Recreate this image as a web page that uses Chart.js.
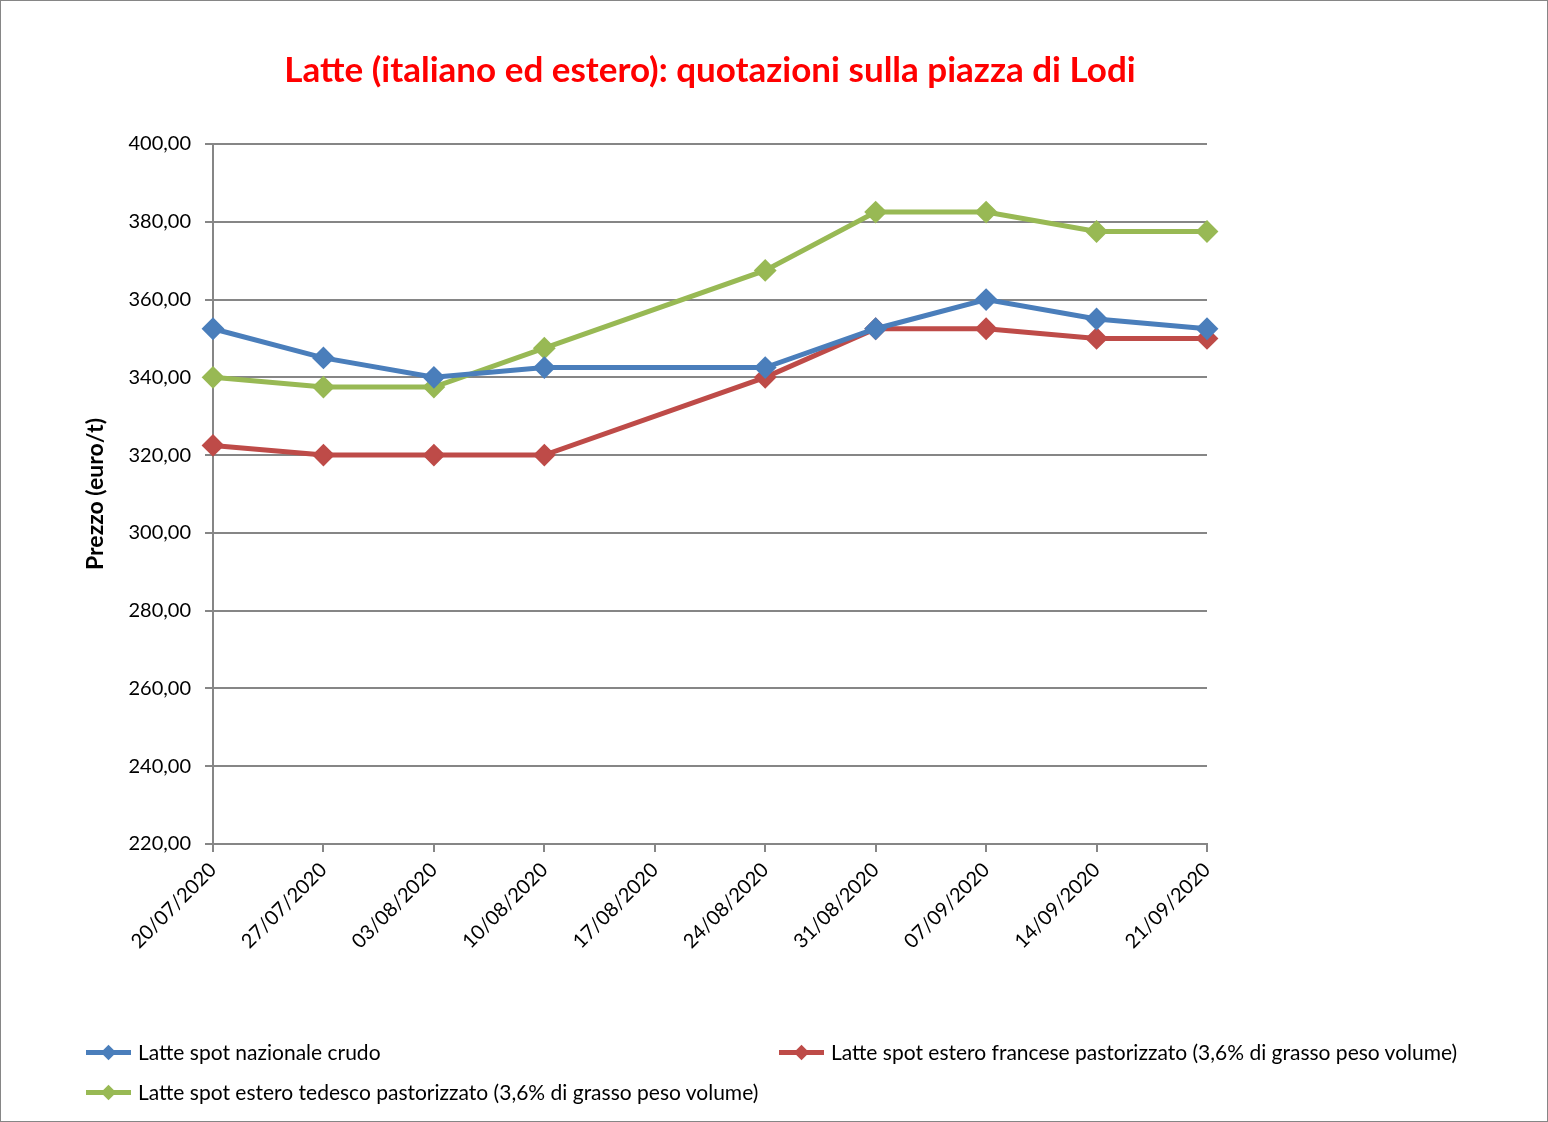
<!DOCTYPE html>
<html>
<head>
<meta charset="utf-8">
<script src="https://cdn.jsdelivr.net/npm/chart.js@4.4.1/dist/chart.umd.min.js"></script>
<style>
  body { margin: 0; background: #fff; }
  #wrap { position: relative; width: 1548px; height: 1122px; box-sizing: border-box; border: 1px solid #868686; background: #fff; }
  #chart { position: absolute; left: 0; top: 0; }
  .leg { position: absolute; font-family: Lato, sans-serif; font-size: 21px; color: #000; height: 26px; line-height: 26px; white-space: nowrap; }
  .leg .mk { position: absolute; left: 0; top: 11px; width: 45px; height: 5px; }
  .leg .mk i { position: absolute; left: 17px; top: -3.5px; width: 11px; height: 11px; transform: rotate(45deg); background: inherit; }
  .leg span.t { position: absolute; left: 52px; top: 0; }
</style>
</head>
<body>
<div id="wrap">
  <canvas id="chart" width="1546" height="1120"></canvas>
  <div id="legend"></div>
</div>
<script>
const dates = ['20/07/2020', '27/07/2020', '03/08/2020', '10/08/2020', '17/08/2020', '24/08/2020', '31/08/2020', '07/09/2020', '14/09/2020', '21/09/2020'];

const nazionaleCrudo = [352.5, 345, 340, 342.5, null, 342.5, 352.5, 360, 355, 352.5];
const francesePastorizzato = [322.5, 320, 320, 320, null, 340, 352.5, 352.5, 350, 350];
const tedescoPastorizzato = [340, 337.5, 337.5, 347.5, null, 367.5, 382.5, 382.5, 377.5, 377.5];

const seriesNames = [
    'Latte spot nazionale crudo',
    'Latte spot estero francese pastorizzato (3,6% di grasso peso volume)',
    'Latte spot estero tedesco pastorizzato (3,6% di grasso peso volume)'
];
const seriesColors = ['#4A7EBB', '#BE4B48', '#98B954'];

const yMin = 220, yMax = 400, yStep = 20;

function makeSet(i, data) {
    return {
        label: seriesNames[i],
        data: data,
        borderColor: seriesColors[i],
        backgroundColor: seriesColors[i],
        borderWidth: 5,
        pointStyle: 'rectRot',
        pointRadius: 10,
        pointBorderWidth: 2,
        pointHoverRadius: 10,
        spanGaps: true,
        tension: 0
    };
}

const font = 'Lato, sans-serif';
const gridColor = '#868686';

const ctx = document.querySelector('#chart');

const chart = new Chart(ctx.getContext('2d'), {
    type: 'line',
    data: {
        labels: dates,
        datasets: [
            makeSet(0, nazionaleCrudo),
            makeSet(1, francesePastorizzato),
            makeSet(2, tedescoPastorizzato)
        ]
    },
    options: {
        responsive: false,
        animation: false,
        layout: {
            padding: { left: 81, right: 340, top: 0, bottom: 137 }
        },
        scales: {
            x: {
                type: 'category',
                offset: false,
                grid: {
                    drawOnChartArea: false,
                    drawTicks: true,
                    tickLength: 8,
                    color: gridColor,
                    lineWidth: 2
                },
                border: { color: gridColor, width: 2 },
                ticks: {
                    color: '#000',
                    font: { family: font, size: 20 },
                    minRotation: 45,
                    maxRotation: 45,
                    autoSkip: false,
                    padding: 6
                },
                afterFit: function(scale) { scale.height = 140; }
            },
            y: {
                min: yMin,
                max: yMax,
                grid: {
                    color: gridColor,
                    lineWidth: 2,
                    tickLength: 8
                },
                border: { color: gridColor, width: 2 },
                ticks: {
                    stepSize: yStep,
                    color: '#000',
                    padding: 14,
                    font: { family: font, size: 20 },
                    callback: function(value) {
                        return value.toFixed(2).replace('.', ',');
                    }
                },
                title: {
                    display: true,
                    text: 'Prezzo (euro/t)',
                    color: '#000',
                    font: { family: font, size: 23, weight: 'bold' },
                    padding: 0
                },
                afterFit: function(scale) { scale.width = 131; }
            }
        },
        plugins: {
            legend: { display: false },
            tooltip: { enabled: false },
            title: {
                display: true,
                fullSize: false,
                text: 'Latte (italiano ed estero): quotazioni sulla piazza di Lodi',
                color: '#FF0000',
                font: { family: font, size: 35, weight: 'bold' },
                padding: { top: 49, bottom: 52 }
            }
        }
    }
});

// legend laid out like the original: two columns, wrapped
const legendPos = [[85, 1038], [778, 1038], [85, 1078]];
const legendBox = document.querySelector('#legend');
seriesNames.forEach(function(name, i) {
    const d = document.createElement('div');
    d.className = 'leg';
    d.style.left = legendPos[i][0] + 'px';
    d.style.top = legendPos[i][1] + 'px';
    d.innerHTML = '<div class="mk" style="background:' + seriesColors[i] + '"><i></i></div><span class="t"></span>';
    d.querySelector('.t').textContent = name;
    legendBox.appendChild(d);
});
</script>
</body>
</html>
